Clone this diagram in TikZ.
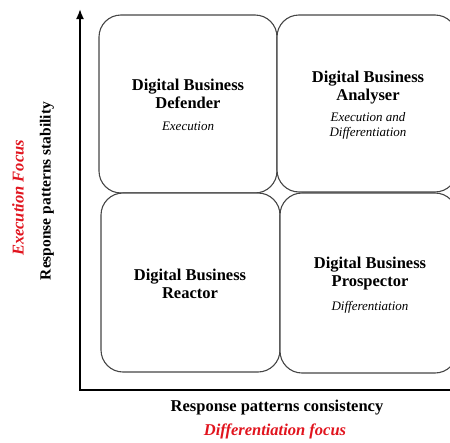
\documentclass[tikz,border=0pt]{standalone}
\usepackage{fontspec}
\setmainfont{Liberation Serif}
\usetikzlibrary{arrows.meta}
\definecolor{focusred}{RGB}{225,20,30}
\definecolor{boxline}{RGB}{70,70,70}
\begin{document}
\begin{tikzpicture}[x=1pt,y=-1pt,
  quad/.style={draw=boxline, line width=1.1pt, rounded corners=22pt, fill=white},
  title/.style={align=center, inner sep=0pt, font=\fontsize{16.5}{18}\selectfont\bfseries},
  sub/.style={align=center, inner sep=0pt, font=\fontsize{13}{15}\selectfont\itshape},
  axis/.style={line width=1.8pt, black},
  axlabel/.style={inner sep=0pt, font=\fontsize{16.5}{18}\selectfont\bfseries},
  focus/.style={inner sep=0pt, text=focusred, font=\fontsize{16.5}{18}\selectfont\bfseries\itshape}]
\useasboundingbox (0,0) rectangle (450,442);
% quadrants
\draw[quad] (99,15) rectangle (277,193);
\draw[quad] (277,15) rectangle (457,192);
\draw[quad] (101,193) rectangle (280,372);
\draw[quad] (280,193) rectangle (457,373);
% axes
\coordinate (origin) at (80,390);
\coordinate (ytip) at (80,9);
\coordinate (xend) at (452,390);
\draw[axis, -{Latex[length=10pt,width=8pt]}] (origin) -- (ytip);
\draw[axis] ([xshift=-0.9pt]origin) -- (xend);
% quadrant texts
\node[title] (deft) at (188,94) {Digital Business\\Defender};
\node[sub] (defs) at (188,126) {Execution};
\node[title] (anat) at (368,88) {Digital Business\\Analyser};
\node[sub] (anas) at (368,125.5) {Execution and\\Differentiation};
\node[title] (reat) at (190,284) {Digital Business\\Reactor};
\node[title] (prot) at (370,274) {Digital Business\\Prospector};
\node[sub] (pros) at (370,307) {Differentiation};
% axis labels
\node[axlabel] (xlab) at (277,408) {Response patterns consistency};
\node[focus] (xfoc) at (275,431) {Differentiation focus};
\node[axlabel, rotate=90, font=\fontsize{15.5}{17}\selectfont\bfseries] (ylab) at (47,191) {Response patterns stability};
\node[focus, rotate=90] (yfoc) at (18,198) {Execution Focus};
\end{tikzpicture}
\end{document}
